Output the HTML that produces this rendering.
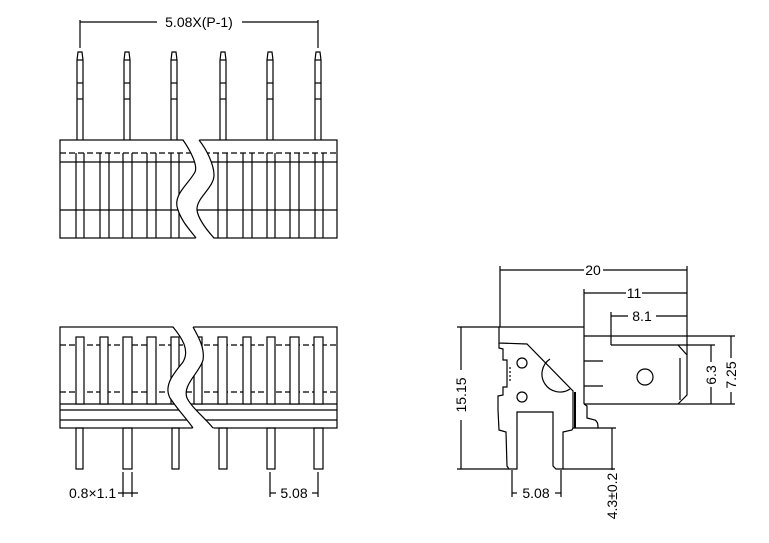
<!DOCTYPE html>
<html><head><meta charset="utf-8"><style>
html,body{margin:0;padding:0;background:#fff;}
svg{display:block}
text{font-family:"Liberation Sans",sans-serif;font-size:14px;fill:#000}
</style></head><body>
<svg width="769" height="543" viewBox="0 0 769 543" xmlns="http://www.w3.org/2000/svg" fill="none" stroke="#000" stroke-width="1.2">
<!-- ===== TOP VIEW ===== -->
<line x1="80" y1="22" x2="157" y2="22"/><line x1="242" y1="22" x2="318" y2="22"/>
<line x1="80" y1="20" x2="80" y2="48"/><line x1="318" y1="20" x2="318" y2="48"/>
<text x="199" y="27" text-anchor="middle" stroke="none">5.08X(P-1)</text>
<g id="pin">
<path d="M77,140 V60 L78,52 H82 L83,60 V140"/><line x1="77" y1="60" x2="83" y2="60"/>
<line x1="77" y1="83" x2="83" y2="83"/><line x1="77" y1="99" x2="83" y2="99"/>
</g>
<use href="#pin" x="47"/><use href="#pin" x="94"/><use href="#pin" x="143"/><use href="#pin" x="190"/><use href="#pin" x="238"/>
<rect x="60" y="140" width="277" height="98"/>
<line x1="60" y1="153" x2="337" y2="153" stroke-dasharray="6,3"/>
<line x1="60" y1="162" x2="337" y2="162"/>
<line x1="60" y1="210" x2="337" y2="210"/>
<g>
<line x1="76" y1="153" x2="76" y2="238"/><line x1="84" y1="153" x2="84" y2="238"/>
<line x1="100" y1="153" x2="100" y2="238"/><line x1="109" y1="153" x2="109" y2="238"/>
<line x1="123" y1="153" x2="123" y2="238"/><line x1="132" y1="153" x2="132" y2="238"/>
<line x1="147" y1="153" x2="147" y2="238"/><line x1="156" y1="153" x2="156" y2="238"/>
<line x1="171" y1="153" x2="171" y2="238"/><line x1="179" y1="153" x2="179" y2="238"/>
<line x1="218" y1="153" x2="218" y2="238"/><line x1="227" y1="153" x2="227" y2="238"/>
<line x1="243" y1="153" x2="243" y2="238"/><line x1="252" y1="153" x2="252" y2="238"/>
<line x1="267" y1="153" x2="267" y2="238"/><line x1="275" y1="153" x2="275" y2="238"/>
<line x1="290" y1="153" x2="290" y2="238"/><line x1="299" y1="153" x2="299" y2="238"/>
<line x1="315" y1="153" x2="315" y2="238"/><line x1="323" y1="153" x2="323" y2="238"/>
</g>
<path d="M183,139 C190,150 198,165 195,172 C188,185 172,195 178,210 C182,222 190,230 196,239 L214,239 C205,228 198,218 197,210 C196,198 214,188 214,175 C214,165 207,150 199,139 Z" fill="#fff" stroke="none"/>
<path d="M183,140 C190,150 198,165 195,172 C188,185 172,195 178,210 C182,222 190,230 196,238"/>
<path d="M199,140 C207,150 214,165 214,175 C214,188 196,198 197,210 C198,218 205,228 214,238"/>

<!-- ===== FRONT VIEW ===== -->
<rect x="60" y="327" width="277" height="101"/>
<line x1="60" y1="345" x2="337" y2="345" stroke-dasharray="6,3"/>
<line x1="60" y1="392" x2="337" y2="392" stroke-dasharray="6,3"/>
<line x1="60" y1="404" x2="337" y2="404"/>
<line x1="60" y1="410" x2="337" y2="410"/>
<line x1="60" y1="420" x2="337" y2="420"/>
<g fill="#fff">
<rect x="76" y="337" width="8" height="67"/><rect x="100" y="337" width="8" height="67"/>
<rect x="123" y="337" width="9" height="67"/><rect x="147" y="337" width="9" height="67"/>
<rect x="171" y="337" width="8" height="67"/><rect x="194" y="337" width="8" height="67"/>
<rect x="218" y="337" width="9" height="67"/><rect x="243" y="337" width="8" height="67"/>
<rect x="267" y="337" width="8" height="67"/><rect x="290" y="337" width="9" height="67"/>
<rect x="314" y="337" width="9" height="67"/>
</g>
<path d="M173,326 C182,338 190,350 183,362 C175,372 163,385 170,398 C178,410 186,418 193,429 L214,429 C205,418 192,408 187,398 C182,385 200,372 203,360 C205,348 198,336 193,326 Z" fill="#fff" stroke="none"/>
<path d="M173,327 C182,338 190,350 183,362 C175,372 163,385 170,398 C178,410 186,418 193,428"/>
<path d="M193,327 C198,336 205,348 203,360 C200,372 182,385 187,398 C192,408 205,418 213,428"/>
<rect x="76" y="428" width="7" height="41"/><rect x="123" y="428" width="9" height="41"/>
<rect x="172" y="428" width="7" height="41"/><rect x="219" y="428" width="8" height="41"/>
<rect x="267" y="428" width="8" height="41"/><rect x="314" y="428" width="9" height="41"/>
<line x1="123" y1="472" x2="123" y2="497"/><line x1="132" y1="472" x2="132" y2="497"/>
<line x1="118" y1="493" x2="138" y2="493"/>
<text x="69" y="498" stroke="none">0.8×1.1</text>
<line x1="270" y1="472" x2="270" y2="497"/><line x1="318" y1="472" x2="318" y2="497"/>
<line x1="270" y1="493" x2="276" y2="493"/><line x1="312" y1="493" x2="318" y2="493"/>
<text x="294" y="498" text-anchor="middle" stroke="none">5.08</text>

<!-- ===== SIDE VIEW ===== -->
<line x1="500" y1="270" x2="584" y2="270"/><line x1="603" y1="270" x2="687" y2="270"/>
<text x="593" y="275" text-anchor="middle" stroke="none">20</text>
<line x1="500" y1="266" x2="500" y2="327"/>
<line x1="687" y1="266" x2="687" y2="355"/>
<line x1="584" y1="293" x2="626" y2="293"/><line x1="642" y1="293" x2="687" y2="293"/>
<text x="634" y="298" text-anchor="middle" stroke="none">11</text>
<line x1="584" y1="289" x2="584" y2="404"/>
<line x1="611" y1="316" x2="628" y2="316"/><line x1="656" y1="316" x2="687" y2="316"/>
<text x="642" y="321" text-anchor="middle" stroke="none">8.1</text>
<line x1="611" y1="312" x2="611" y2="345"/>
<line x1="457" y1="327" x2="584" y2="327"/>
<line x1="461" y1="327" x2="461" y2="370"/><line x1="461" y1="420" x2="461" y2="469"/>
<text transform="translate(466,395) rotate(-90)" text-anchor="middle" stroke="none">15.15</text>
<line x1="457" y1="469" x2="509" y2="469"/><line x1="563" y1="469" x2="615" y2="469"/>
<path d="M499,327 V343 L527,344 L573,391 V428"/>
<path d="M499,343 V348 L503,349 V360 L507,360 V387 L503,387 V395 L498,396 V410 L499,430 L506,432 L507,466 L509,469 H517 V412 H553 V466 L556,469 H563 V432 L572,430 L573,428"/>
<line x1="575" y1="392" x2="575" y2="428" stroke-width="2"/>
<line x1="510" y1="367" x2="510" y2="383" stroke-dasharray="2,2"/>
<circle cx="522" cy="363" r="5"/><circle cx="522" cy="397" r="5"/>
<path d="M550,359 A17,17 0 0,0 570,389"/>
<path d="M584,404 L587,406 V418 L595,420 C598,422 598,425 598,428 H573"/>
<line x1="584" y1="336" x2="735" y2="336"/>
<line x1="611" y1="345" x2="715" y2="345"/>
<line x1="584" y1="404" x2="735" y2="404"/>
<path d="M678,345 L687,355 V395 L678,404"/>
<line x1="680" y1="358" x2="680" y2="400"/>
<circle cx="645" cy="377" r="8"/>
<line x1="584" y1="361" x2="603" y2="361"/><line x1="584" y1="386" x2="603" y2="386"/>
<line x1="711" y1="345" x2="711" y2="362"/><line x1="711" y1="387" x2="711" y2="404"/>
<text transform="translate(716,375) rotate(-90)" text-anchor="middle" stroke="none">6.3</text>
<line x1="731" y1="336" x2="731" y2="358"/><line x1="731" y1="392" x2="731" y2="404"/>
<text transform="translate(736,375) rotate(-90)" text-anchor="middle" stroke="none">7.25</text>
<line x1="598" y1="428" x2="616" y2="428"/>
<line x1="612" y1="428" x2="612" y2="470"/>
<text transform="translate(617,496) rotate(-90)" text-anchor="middle" stroke="none">4.3±0.2</text>
<line x1="512" y1="470" x2="512" y2="497"/><line x1="561" y1="470" x2="561" y2="497"/>
<line x1="512" y1="493" x2="517" y2="493"/><line x1="555" y1="493" x2="561" y2="493"/>
<text x="536" y="498" text-anchor="middle" stroke="none">5.08</text>
</svg>
</body></html>
